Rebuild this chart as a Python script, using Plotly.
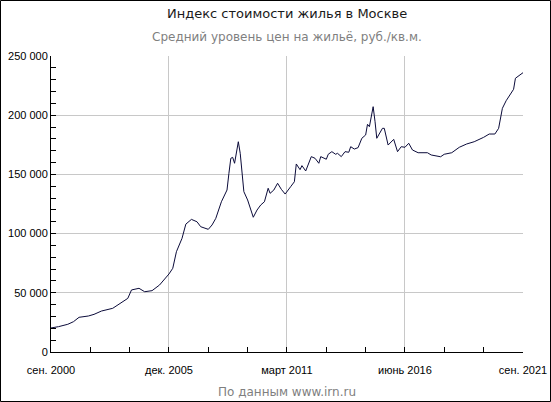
import plotly.graph_objects as go

# Индекс стоимости жилья в Москве, руб./кв.м.
months = [
    "2000-09", "2001-01", "2001-06", "2001-09", "2001-12", "2002-05", "2002-08", "2002-12",
    "2003-06", "2003-11", "2004-02", "2004-04", "2004-08", "2004-11", "2005-03", "2005-07",
    "2005-12", "2006-02", "2006-04", "2006-07", "2006-09", "2006-12", "2007-03", "2007-05",
    "2007-09", "2007-11", "2008-01", "2008-04", "2008-07", "2008-08", "2008-09", "2008-10",
    "2008-11", "2009-01", "2009-02", "2009-04", "2009-06", "2009-09", "2009-11", "2010-01",
    "2010-03", "2010-05", "2010-06", "2010-08", "2010-10", "2010-12", "2011-02", "2011-05",
    "2011-07", "2011-08", "2011-10", "2011-11", "2012-01", "2012-04", "2012-06", "2012-08",
    "2012-09", "2012-12", "2013-01", "2013-03", "2013-05", "2013-06", "2013-08", "2013-10",
    "2013-12", "2014-01", "2014-03", "2014-05", "2014-07", "2014-09", "2014-10", "2014-11",
    "2015-01", "2015-02", "2015-03", "2015-06", "2015-07", "2015-09", "2015-12", "2016-02",
    "2016-04", "2016-06", "2016-08", "2016-10", "2017-01", "2017-06", "2017-08", "2018-01",
    "2018-03", "2018-07", "2018-11", "2019-03", "2019-07", "2019-12", "2020-03", "2020-06",
    "2020-08", "2020-10", "2020-12", "2021-04", "2021-05", "2021-09",
]
prices = [
    20300, 21400, 23400, 25600, 29300, 30400, 31800, 34600,
    36900, 42500, 45300, 52400, 53800, 50900, 51800, 56600,
    65900, 70700, 84700, 96000, 108000, 112000, 110000, 105800,
    103600, 107300, 112900, 126900, 136800, 150900, 163600, 164400,
    159400, 177600, 167800, 135400, 128400, 113800, 119900, 124200,
    126900, 138300, 134000, 136800, 142500, 137400, 133400, 139600,
    143800, 158800, 154000, 157400, 152900, 165000, 163600, 159400,
    165000, 162800, 167000, 169200, 167000, 167800, 165000, 169200,
    168700, 173400, 171400, 172600, 180500, 183300, 192300, 190300,
    207200, 194500, 180500, 188900, 188900, 174800, 179600, 169200,
    173400, 172900, 176300, 170600, 168300, 168300, 166400, 164900,
    167000, 168300, 172900, 175700, 177600, 181300, 184100, 184100,
    188900, 205800, 212200, 221900, 231200, 235900,
]

tick_dates = ["2000-09-01", "2005-12-01", "2011-03-01", "2016-06-01", "2021-09-01"]
tick_labels = ["сен. 2000", "дек. 2005", "март 2011", "июнь 2016", "сен. 2021"]

W, H = 551, 402
ml, mr, mt, mb = 51, 28, 56, 50
pw, ph = W - ml - mr, H - mt - mb

fig = go.Figure(go.Scatter(
    x=[m + "-01" for m in months], y=prices,
    mode="lines", line=dict(color="#0b0b3a", width=1),
    hoverinfo="x+y",
))

fig.update_layout(
    width=W, height=H,
    margin=dict(l=ml, r=mr, t=mt, b=mb, autoexpand=False),
    paper_bgcolor="white", plot_bgcolor="white",
    showlegend=False,
    separators=", ",
    font=dict(family="Liberation Sans, Arial, sans-serif", size=11, color="#000000"),
    annotations=[
        dict(text="Индекс стоимости жилья в Москве", xref="paper", yref="paper",
             x=0.5, y=(ph + mt - 13) / ph, showarrow=False, yanchor="middle",
             font=dict(family="DejaVu Sans, Verdana, sans-serif", size=13, color="#1a1a1a")),
        dict(text="Средний уровень цен на жильё, руб./кв.м.", xref="paper", yref="paper",
             x=0.5, y=(ph + mt - 37) / ph, showarrow=False, yanchor="middle",
             font=dict(family="DejaVu Sans, Verdana, sans-serif", size=12, color="#7f7f7f")),
        dict(text="По данным www.irn.ru", xref="paper", yref="paper",
             x=0.5, y=(ph + mt - 392) / ph, showarrow=False, yanchor="middle",
             font=dict(family="DejaVu Sans, Verdana, sans-serif", size=12, color="#7f7f7f")),
    ],
    shapes=[
        dict(type="rect", xref="paper", yref="paper",
             x0=(-ml + 0.5) / pw, x1=(pw + mr - 0.5) / pw,
             y0=(-mb + 0.5) / ph, y1=(ph + mt - 0.5) / ph,
             line=dict(color="#000000", width=1), layer="above"),
    ],
)

fig.update_xaxes(
    type="date", range=["2000-09-01", "2021-09-01"],
    tickmode="array", tickvals=tick_dates, ticktext=tick_labels,
    showgrid=True, gridcolor="#c8c8c8", gridwidth=1,
    showline=True, linecolor="#000000", linewidth=1,
    ticks="inside", ticklen=5, tickcolor="#000000",
    ticklabelstandoff=8,
    minor=dict(tickmode="linear", tick0="2000-09-01", dtick="M21",
               ticks="inside", ticklen=5, tickcolor="#000000", showgrid=False),
    zeroline=False,
)
fig.update_yaxes(
    range=[0, 250000], tickmode="linear", tick0=0, dtick=50000,
    tickformat=",d",
    showgrid=True, gridcolor="#c8c8c8", gridwidth=1,
    showline=True, linecolor="#000000", linewidth=1,
    ticks="inside", ticklen=5, tickcolor="#000000",
    minor=dict(tickmode="linear", tick0=0, dtick=10000,
               ticks="inside", ticklen=5, tickcolor="#000000", showgrid=False),
    zeroline=False,
)

# без отступов страницы и без панели кнопок
fig.write_html("out.html", config={"displayModeBar": False},
               post_script="document.body.style.margin='0';")
